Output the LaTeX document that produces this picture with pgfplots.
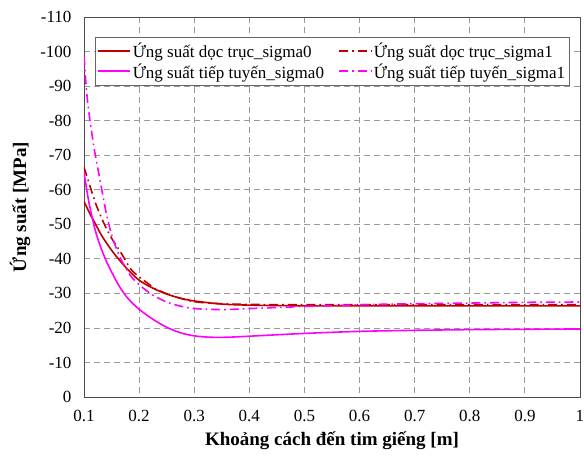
\documentclass[border=0pt]{standalone}
\usepackage{fontspec}
\setmainfont{Liberation Serif}
\usepackage{pgfplots}
\pgfplotsset{compat=1.18}
\definecolor{dred}{RGB}{192,0,0}
\definecolor{mag}{RGB}{255,0,255}
\begin{document}
\begin{tikzpicture}
\begin{axis}[
  at={(0,0)}, anchor=south west,
  scale only axis, width=496pt, height=380pt,
  xmin=0.1, xmax=1, ymin=-110, ymax=0,
  y dir=reverse,
  xtick={0.1,0.2,...,1.0},
  xticklabels={0.1,0.2,0.3,0.4,0.5,0.6,0.7,0.8,0.9,1},
  ytick={-110,-100,...,0},
  yticklabels={-110,-100,-90,-80,-70,-60,-50,-40,-30,-20,-10,0},
  major tick length=0pt,
  grid=major,
  major grid style={gray!80, dash pattern=on 6pt off 4pt, line width=0.8pt},
  axis line style={black!70, line width=0.8pt},
  tick label style={font=\fontsize{17}{19}\selectfont},
  xticklabel style={yshift=-10pt},
  yticklabel style={xshift=-9pt},
  xlabel={\textbf{Khoảng cách đến tim giếng [m]}},
  ylabel={\textbf{Ứng suất [MPa]}},
  label style={font=\fontsize{19}{21}\selectfont},
  xlabel style={yshift=-3pt},
  ylabel style={yshift=3pt},
  legend columns=2,
  legend style={at={(0.5,0.947)}, anchor=north, font=\fontsize{17}{19}\selectfont,
    draw=black!60, inner xsep=2pt, inner ysep=4pt,
    /tikz/every even column/.append style={column sep=12pt}},
  legend cell align=left,
  legend image code/.code={\draw[#1, line width=2pt] (0pt,0pt) -- (32pt,0pt);},
]
\addplot[color=dred, line width=1.6pt, smooth] coordinates {
(0.1,-56.6) (0.11,-53.3) (0.12,-50.3) (0.133,-46.5) (0.15,-42.5) (0.165,-39.5) (0.18,-36.8) (0.2,-33.8) (0.225,-31.5) (0.25,-29.8) (0.275,-28.6) (0.3,-27.8) (0.35,-26.9) (0.4,-26.6) (0.5,-26.4) (0.7,-26.4) (1.0,-26.4)};
\addlegendentry{Ứng suất dọc trục\_sigma0}
\addplot[color=dred, line width=1.6pt, smooth, dash pattern=on 9pt off 4pt on 1.6pt off 4pt] coordinates {
(0.1,-66.5) (0.105,-64) (0.11,-61.5) (0.12,-56.5) (0.13,-52.5) (0.14,-49) (0.15,-46) (0.16,-43.5) (0.17,-41) (0.185,-37) (0.2,-34.8) (0.215,-33) (0.23,-31.3) (0.26,-29.3) (0.3,-27.6) (0.35,-27) (0.4,-26.8) (0.5,-26.7) (0.7,-26.7) (1.0,-26.7)};
\addlegendentry{Ứng suất dọc trục\_sigma1}
\addplot[color=mag, line width=1.6pt, smooth] coordinates {
(0.1,-65) (0.105,-60) (0.11,-55.5) (0.12,-48.5) (0.13,-43.5) (0.14,-39.5) (0.15,-36.2) (0.165,-31.8) (0.18,-28.5) (0.2,-25.4) (0.225,-22.5) (0.25,-20.2) (0.275,-18.6) (0.3,-17.7) (0.33,-17.3) (0.36,-17.3) (0.4,-17.6) (0.5,-18.4) (0.6,-19.0) (0.7,-19.3) (0.8,-19.5) (0.9,-19.6) (1.0,-19.7)};
\addlegendentry{Ứng suất tiếp tuyến\_sigma0}
\addplot[color=mag, line width=1.6pt, smooth, dash pattern=on 9pt off 4pt on 1.6pt off 4pt] coordinates {
(0.1,-98.5) (0.105,-88) (0.11,-81) (0.115,-75.5) (0.12,-70.5) (0.13,-62) (0.14,-53.5) (0.15,-47) (0.16,-42.5) (0.17,-39) (0.185,-35) (0.2,-32.5) (0.225,-29.5) (0.25,-27.5) (0.275,-26.3) (0.3,-25.6) (0.35,-25.3) (0.4,-25.6) (0.5,-26.2) (0.6,-26.7) (0.7,-27.0) (0.8,-27.2) (0.9,-27.4) (1.0,-27.5)};
\addlegendentry{Ứng suất tiếp tuyến\_sigma1}
\end{axis}
\pgfresetboundingbox
\path (-84pt,-63pt) rectangle (500pt,397pt);
\end{tikzpicture}
\end{document}
